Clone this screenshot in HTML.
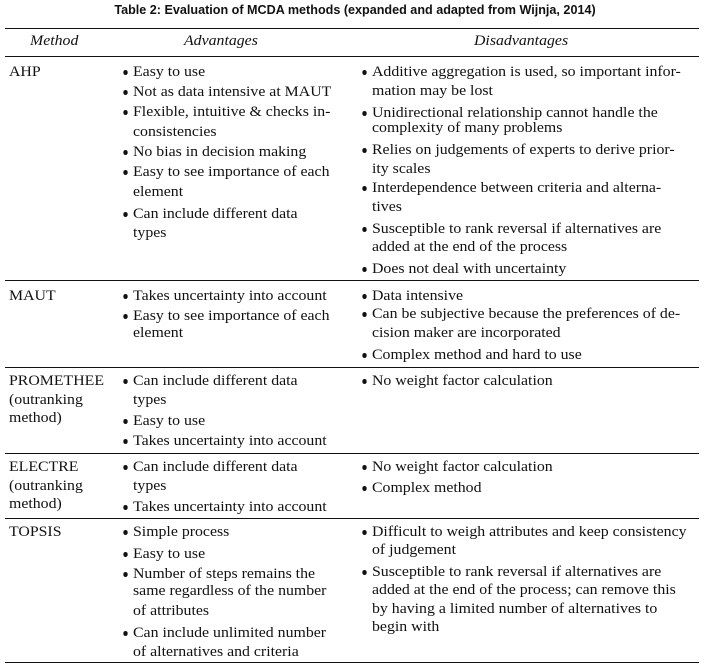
<!DOCTYPE html>
<html><head><meta charset="utf-8"><style>
body{margin:0;background:#fff;width:710px;height:670px;position:relative;overflow:hidden;font-family:"Liberation Serif",serif;font-size:14.8px;color:#111}
.t{position:absolute;white-space:nowrap;line-height:18px;height:18px;transform:scaleX(1.07);transform-origin:0 0}
.r{position:absolute;left:5px;width:694px;height:1.3px;background:#111}
.b::before{content:"";position:absolute;left:-9.5px;top:7px;width:4.5px;height:4.5px;border-radius:50%;background:#111}
h1{position:absolute;margin:0;top:3px;left:0;width:710px;text-align:center;font:bold 12.6px "Liberation Sans",sans-serif}
</style></head><body>
<h1>Table 2: Evaluation of MCDA methods (expanded and adapted from Wijnja, 2014)</h1>
<div class="r" style="top:28px"></div>
<div class="r" style="top:56px"></div>
<div class="r" style="top:280px"></div>
<div class="r" style="top:367px"></div>
<div class="r" style="top:453px"></div>
<div class="r" style="top:518px"></div>
<div class="r" style="top:662px"></div>
<div class="t" style="top:32px;left:30px;font-style:italic">Method</div>
<div class="t" style="top:32px;left:184px;font-style:italic">Advantages</div>
<div class="t" style="top:32px;left:474px;font-style:italic">Disadvantages</div>

<div class="t" style="top:63px;left:9px">AHP</div>
<div class="t b" style="top:63px;left:133px">Easy to use</div>
<div class="t b" style="top:83px;left:133px">Not as data intensive at MAUT</div>
<div class="t b" style="top:103px;left:133px">Flexible, intuitive &amp; checks in-</div>
<div class="t" style="top:123px;left:133px">consistencies</div>
<div class="t b" style="top:143px;left:133px">No bias in decision making</div>
<div class="t b" style="top:163px;left:133px">Easy to see importance of each</div>
<div class="t" style="top:183px;left:133px">element</div>
<div class="t b" style="top:205px;left:133px">Can include different data</div>
<div class="t" style="top:224px;left:133px">types</div>

<div class="t b" style="top:63px;left:372px">Additive aggregation is used, so important infor-</div>
<div class="t" style="top:82px;left:372px">mation may be lost</div>
<div class="t b" style="top:104px;left:372px">Unidirectional relationship cannot handle the</div>
<div class="t" style="top:119px;left:372px">complexity of many problems</div>
<div class="t b" style="top:141px;left:372px">Relies on judgements of experts to derive prior-</div>
<div class="t" style="top:160px;left:372px">ity scales</div>
<div class="t b" style="top:179px;left:372px">Interdependence between criteria and alterna-</div>
<div class="t" style="top:198px;left:372px">tives</div>
<div class="t b" style="top:220px;left:372px">Susceptible to rank reversal if alternatives are</div>
<div class="t" style="top:238px;left:372px">added at the end of the process</div>
<div class="t b" style="top:260px;left:372px">Does not deal with uncertainty</div>

<div class="t" style="top:287px;left:9px">MAUT</div>
<div class="t b" style="top:287px;left:133px">Takes uncertainty into account</div>
<div class="t b" style="top:307px;left:133px">Easy to see importance of each</div>
<div class="t" style="top:324px;left:133px">element</div>
<div class="t b" style="top:287px;left:372px">Data intensive</div>
<div class="t b" style="top:305px;left:372px">Can be subjective because the preferences of de-</div>
<div class="t" style="top:324px;left:372px">cision maker are incorporated</div>
<div class="t b" style="top:346px;left:372px">Complex method and hard to use</div>

<div class="t" style="top:372px;left:9px">PROMETHEE</div>
<div class="t" style="top:391px;left:9px">(outranking</div>
<div class="t" style="top:409px;left:9px">method)</div>
<div class="t b" style="top:372px;left:133px">Can include different data</div>
<div class="t" style="top:391px;left:133px">types</div>
<div class="t b" style="top:412px;left:133px">Easy to use</div>
<div class="t b" style="top:432px;left:133px">Takes uncertainty into account</div>
<div class="t b" style="top:372px;left:372px">No weight factor calculation</div>

<div class="t" style="top:458px;left:9px">ELECTRE</div>
<div class="t" style="top:477px;left:9px">(outranking</div>
<div class="t" style="top:495px;left:9px">method)</div>
<div class="t b" style="top:458px;left:133px">Can include different data</div>
<div class="t" style="top:477px;left:133px">types</div>
<div class="t b" style="top:498px;left:133px">Takes uncertainty into account</div>
<div class="t b" style="top:458px;left:372px">No weight factor calculation</div>
<div class="t b" style="top:479px;left:372px">Complex method</div>

<div class="t" style="top:523px;left:9px">TOPSIS</div>
<div class="t b" style="top:523px;left:133px">Simple process</div>
<div class="t b" style="top:545px;left:133px">Easy to use</div>
<div class="t b" style="top:565px;left:133px">Number of steps remains the</div>
<div class="t" style="top:582px;left:133px">same regardless of the number</div>
<div class="t" style="top:602px;left:133px">of attributes</div>
<div class="t b" style="top:624px;left:133px">Can include unlimited number</div>
<div class="t" style="top:643px;left:133px">of alternatives and criteria</div>
<div class="t b" style="top:523px;left:372px">Difficult to weigh attributes and keep consistency</div>
<div class="t" style="top:541px;left:372px">of judgement</div>
<div class="t b" style="top:563px;left:372px">Susceptible to rank reversal if alternatives are</div>
<div class="t" style="top:581px;left:372px">added at the end of the process; can remove this</div>
<div class="t" style="top:600px;left:372px">by having a limited number of alternatives to</div>
<div class="t" style="top:618px;left:372px">begin with</div>
</body></html>
